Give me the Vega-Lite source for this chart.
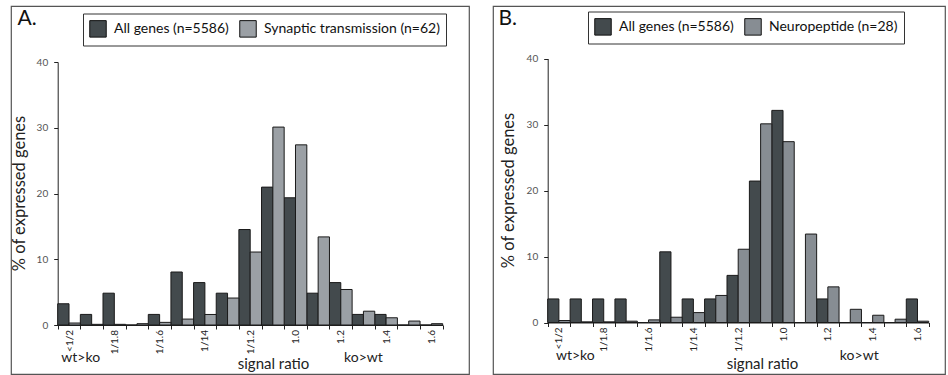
{
  "$schema": "https://vega.github.io/schema/vega-lite/v6.json",
  "padding": {"left": 5, "top": 5, "right": 0, "bottom": 0},
  "spacing": 17,
  "datasets": {
    "bars": [
      {"panel": "A", "bin": "<1/2", "series": "All genes (n=5586)", "pct": 3.23},
      {"panel": "A", "bin": "1/1.9", "series": "All genes (n=5586)", "pct": 1.61},
      {"panel": "A", "bin": "1/1.8", "series": "All genes (n=5586)", "pct": 4.84},
      {"panel": "A", "bin": "1/1.7", "series": "All genes (n=5586)", "pct": 0},
      {"panel": "A", "bin": "1/1.6", "series": "All genes (n=5586)", "pct": 1.61},
      {"panel": "A", "bin": "1/1.5", "series": "All genes (n=5586)", "pct": 8.06},
      {"panel": "A", "bin": "1/1.4", "series": "All genes (n=5586)", "pct": 6.45},
      {"panel": "A", "bin": "1/1.3", "series": "All genes (n=5586)", "pct": 4.84},
      {"panel": "A", "bin": "1/1.2", "series": "All genes (n=5586)", "pct": 14.52},
      {"panel": "A", "bin": "1/1.1", "series": "All genes (n=5586)", "pct": 20.97},
      {"panel": "A", "bin": "1.0", "series": "All genes (n=5586)", "pct": 19.35},
      {"panel": "A", "bin": "1.1", "series": "All genes (n=5586)", "pct": 4.84},
      {"panel": "A", "bin": "1.2", "series": "All genes (n=5586)", "pct": 6.45},
      {"panel": "A", "bin": "1.3", "series": "All genes (n=5586)", "pct": 1.61},
      {"panel": "A", "bin": "1.4", "series": "All genes (n=5586)", "pct": 1.61},
      {"panel": "A", "bin": "1.5", "series": "All genes (n=5586)", "pct": 0},
      {"panel": "A", "bin": "1.6", "series": "All genes (n=5586)", "pct": 0},
      {"panel": "A", "bin": "<1/2", "series": "Synaptic transmission (n=62)", "pct": 0.3},
      {"panel": "A", "bin": "1/1.9", "series": "Synaptic transmission (n=62)", "pct": 0.1},
      {"panel": "A", "bin": "1/1.8", "series": "Synaptic transmission (n=62)", "pct": 0.1},
      {"panel": "A", "bin": "1/1.7", "series": "Synaptic transmission (n=62)", "pct": 0.2},
      {"panel": "A", "bin": "1/1.6", "series": "Synaptic transmission (n=62)", "pct": 0.4},
      {"panel": "A", "bin": "1/1.5", "series": "Synaptic transmission (n=62)", "pct": 0.9},
      {"panel": "A", "bin": "1/1.4", "series": "Synaptic transmission (n=62)", "pct": 1.6},
      {"panel": "A", "bin": "1/1.3", "series": "Synaptic transmission (n=62)", "pct": 4.1},
      {"panel": "A", "bin": "1/1.2", "series": "Synaptic transmission (n=62)", "pct": 11.1},
      {"panel": "A", "bin": "1/1.1", "series": "Synaptic transmission (n=62)", "pct": 30.1},
      {"panel": "A", "bin": "1.0", "series": "Synaptic transmission (n=62)", "pct": 27.4},
      {"panel": "A", "bin": "1.1", "series": "Synaptic transmission (n=62)", "pct": 13.4},
      {"panel": "A", "bin": "1.2", "series": "Synaptic transmission (n=62)", "pct": 5.4},
      {"panel": "A", "bin": "1.3", "series": "Synaptic transmission (n=62)", "pct": 2.1},
      {"panel": "A", "bin": "1.4", "series": "Synaptic transmission (n=62)", "pct": 1.1},
      {"panel": "A", "bin": "1.5", "series": "Synaptic transmission (n=62)", "pct": 0.6},
      {"panel": "A", "bin": "1.6", "series": "Synaptic transmission (n=62)", "pct": 0.2},
      {"panel": "B", "bin": "<1/2", "series": "All genes (n=5586)", "pct": 3.57},
      {"panel": "B", "bin": "1/1.9", "series": "All genes (n=5586)", "pct": 3.57},
      {"panel": "B", "bin": "1/1.8", "series": "All genes (n=5586)", "pct": 3.57},
      {"panel": "B", "bin": "1/1.7", "series": "All genes (n=5586)", "pct": 3.57},
      {"panel": "B", "bin": "1/1.6", "series": "All genes (n=5586)", "pct": 0},
      {"panel": "B", "bin": "1/1.5", "series": "All genes (n=5586)", "pct": 10.71},
      {"panel": "B", "bin": "1/1.4", "series": "All genes (n=5586)", "pct": 3.57},
      {"panel": "B", "bin": "1/1.3", "series": "All genes (n=5586)", "pct": 3.57},
      {"panel": "B", "bin": "1/1.2", "series": "All genes (n=5586)", "pct": 7.14},
      {"panel": "B", "bin": "1/1.1", "series": "All genes (n=5586)", "pct": 21.43},
      {"panel": "B", "bin": "1.0", "series": "All genes (n=5586)", "pct": 32.14},
      {"panel": "B", "bin": "1.1", "series": "All genes (n=5586)", "pct": 0},
      {"panel": "B", "bin": "1.2", "series": "All genes (n=5586)", "pct": 3.57},
      {"panel": "B", "bin": "1.3", "series": "All genes (n=5586)", "pct": 0},
      {"panel": "B", "bin": "1.4", "series": "All genes (n=5586)", "pct": 0},
      {"panel": "B", "bin": "1.5", "series": "All genes (n=5586)", "pct": 0},
      {"panel": "B", "bin": "1.6", "series": "All genes (n=5586)", "pct": 3.57},
      {"panel": "B", "bin": "<1/2", "series": "Neuropeptide (n=28)", "pct": 0.3},
      {"panel": "B", "bin": "1/1.9", "series": "Neuropeptide (n=28)", "pct": 0.1},
      {"panel": "B", "bin": "1/1.8", "series": "Neuropeptide (n=28)", "pct": 0.1},
      {"panel": "B", "bin": "1/1.7", "series": "Neuropeptide (n=28)", "pct": 0.2},
      {"panel": "B", "bin": "1/1.6", "series": "Neuropeptide (n=28)", "pct": 0.4},
      {"panel": "B", "bin": "1/1.5", "series": "Neuropeptide (n=28)", "pct": 0.8},
      {"panel": "B", "bin": "1/1.4", "series": "Neuropeptide (n=28)", "pct": 1.5},
      {"panel": "B", "bin": "1/1.3", "series": "Neuropeptide (n=28)", "pct": 4.1},
      {"panel": "B", "bin": "1/1.2", "series": "Neuropeptide (n=28)", "pct": 11.1},
      {"panel": "B", "bin": "1/1.1", "series": "Neuropeptide (n=28)", "pct": 30.1},
      {"panel": "B", "bin": "1.0", "series": "Neuropeptide (n=28)", "pct": 27.4},
      {"panel": "B", "bin": "1.1", "series": "Neuropeptide (n=28)", "pct": 13.4},
      {"panel": "B", "bin": "1.2", "series": "Neuropeptide (n=28)", "pct": 5.4},
      {"panel": "B", "bin": "1.3", "series": "Neuropeptide (n=28)", "pct": 2.0},
      {"panel": "B", "bin": "1.4", "series": "Neuropeptide (n=28)", "pct": 1.1},
      {"panel": "B", "bin": "1.5", "series": "Neuropeptide (n=28)", "pct": 0.5},
      {"panel": "B", "bin": "1.6", "series": "Neuropeptide (n=28)", "pct": 0.2}
    ],
    "notes": [
      {"panel": "A", "bin": "1/1.9", "text": "wt>ko"},
      {"panel": "A", "bin": "1.3", "text": "ko>wt"},
      {"panel": "B", "bin": "1/1.9", "text": "wt>ko"},
      {"panel": "B", "bin": "1.3", "text": "ko>wt"}
    ]
  },
  "hconcat": [
    {
      "width": 458,
      "height": 368,
      "title": {"text": "A.", "anchor": "start", "frame": "group", "orient": "top", "offset": -40, "baseline": "alphabetic", "dx": 6.5, "fontSize": 21, "fontWeight": "normal", "color": "#111"},
      "layer": [
        {
          "data": {"name": "bars"},
          "transform": [{"filter": "datum.panel == 'A'"}],
          "mark": {"type": "bar", "stroke": "#1a1a1a", "strokeWidth": 1},
          "encoding": {
            "x": {
              "field": "bin", "type": "nominal",
              "sort": ["<1/2", "1/1.9", "1/1.8", "1/1.7", "1/1.6", "1/1.5", "1/1.4", "1/1.3", "1/1.2", "1/1.1", "1.0", "1.1", "1.2", "1.3", "1.4", "1.5", "1.6"],
              "scale": {"range": [46.7, 431.7], "paddingInner": 0, "paddingOuter": 0},
              "axis": {
                "title": "signal ratio", "offset": -49, "tickBand": "extent",
                "labelExpr": "indexof(['<1/2','1/1.8','1/1.6','1/1.4','1/1.2','1.0','1.2','1.4','1.6'], datum.value) >= 0 ? (datum.value == '1/1.4' ? '1/14' : datum.value) : ''",
                "titleX": 262, "titleY": 43.5
              }
            },
            "xOffset": {"field": "series", "sort": ["All genes (n=5586)", "Synaptic transmission (n=62)"], "scale": {"paddingInner": 0, "paddingOuter": 0}},
            "y": {
              "field": "pct", "type": "quantitative",
              "scale": {"domain": [0, 40], "range": [319, 56], "nice": false},
              "axis": {"title": "% of expressed genes", "values": [0, 10, 20, 30, 40], "offset": -46.7, "titleX": -38, "titleY": 187}
            },
            "color": {
              "field": "series", "type": "nominal",
              "scale": {"domain": ["All genes (n=5586)", "Synaptic transmission (n=62)"], "range": ["#434a4d", "#9ba0a5"]},
              "legend": {"legendX": 72, "legendY": 7.5}
            }
          }
        },
        {
          "data": {"name": "notes"},
          "transform": [{"filter": "datum.panel == 'A' && datum.text == 'wt>ko'"}],
          "mark": {"type": "text", "dx": -11, "baseline": "alphabetic", "fontSize": 14, "color": "#222"},
          "encoding": {
            "x": {"field": "bin", "type": "nominal", "sort": ["<1/2", "1/1.9", "1/1.8", "1/1.7", "1/1.6", "1/1.5", "1/1.4", "1/1.3", "1/1.2", "1/1.1", "1.0", "1.1", "1.2", "1.3", "1.4", "1.5", "1.6"]},
            "y": {"datum": -5.6, "type": "quantitative"},
            "text": {"field": "text"}
          }
        },
        {
          "data": {"name": "notes"},
          "transform": [{"filter": "datum.panel == 'A' && datum.text == 'ko>wt'"}],
          "mark": {"type": "text", "dx": 0, "baseline": "alphabetic", "fontSize": 14, "color": "#222"},
          "encoding": {
            "x": {"field": "bin", "type": "nominal", "sort": ["<1/2", "1/1.9", "1/1.8", "1/1.7", "1/1.6", "1/1.5", "1/1.4", "1/1.3", "1/1.2", "1/1.1", "1.0", "1.1", "1.2", "1.3", "1.4", "1.5", "1.6"]},
            "y": {"datum": -5.6, "type": "quantitative"},
            "text": {"field": "text"}
          }
        }
      ]
    },
    {
      "width": 452,
      "height": 368,
      "title": {"text": "B.", "anchor": "start", "frame": "group", "orient": "top", "offset": -39.5, "baseline": "alphabetic", "dx": 5.5, "fontSize": 21, "fontWeight": "normal", "color": "#111"},
      "layer": [
        {
          "data": {"name": "bars"},
          "transform": [{"filter": "datum.panel == 'B'"}],
          "mark": {"type": "bar", "stroke": "#1a1a1a", "strokeWidth": 1},
          "encoding": {
            "x": {
              "field": "bin", "type": "nominal",
              "sort": ["<1/2", "1/1.9", "1/1.8", "1/1.7", "1/1.6", "1/1.5", "1/1.4", "1/1.3", "1/1.2", "1/1.1", "1.0", "1.1", "1.2", "1.3", "1.4", "1.5", "1.6"],
              "scale": {"range": [54.7, 435.7], "paddingInner": 0, "paddingOuter": 0},
              "axis": {
                "title": "signal ratio", "offset": -51.5, "tickBand": "extent",
                "labelExpr": "indexof(['<1/2','1/1.8','1/1.6','1/1.4','1/1.2','1.0','1.2','1.4','1.6'], datum.value) >= 0 ? datum.value : ''",
                "titleX": 269, "titleY": 45.8
              }
            },
            "xOffset": {"field": "series", "sort": ["All genes (n=5586)", "Neuropeptide (n=28)"], "scale": {"paddingInner": 0, "paddingOuter": 0}},
            "y": {
              "field": "pct", "type": "quantitative",
              "scale": {"domain": [0, 40], "range": [316.5, 52.5], "nice": false},
              "axis": {"title": "% of expressed genes", "values": [0, 10, 20, 30, 40], "offset": -54.7, "titleX": -39, "titleY": 184}
            },
            "color": {
              "field": "series", "type": "nominal",
              "scale": {"domain": ["All genes (n=5586)", "Neuropeptide (n=28)"], "range": ["#434a4d", "#878d93"]},
              "legend": {"legendX": 95, "legendY": 5.5}
            }
          }
        },
        {
          "data": {"name": "notes"},
          "transform": [{"filter": "datum.panel == 'B' && datum.text == 'wt>ko'"}],
          "mark": {"type": "text", "dx": -6, "baseline": "alphabetic", "fontSize": 14, "color": "#222"},
          "encoding": {
            "x": {"field": "bin", "type": "nominal", "sort": ["<1/2", "1/1.9", "1/1.8", "1/1.7", "1/1.6", "1/1.5", "1/1.4", "1/1.3", "1/1.2", "1/1.1", "1.0", "1.1", "1.2", "1.3", "1.4", "1.5", "1.6"]},
            "y": {"datum": -5.73, "type": "quantitative"},
            "text": {"field": "text"}
          }
        },
        {
          "data": {"name": "notes"},
          "transform": [{"filter": "datum.panel == 'B' && datum.text == 'ko>wt'"}],
          "mark": {"type": "text", "dx": 9, "baseline": "alphabetic", "fontSize": 14, "color": "#222"},
          "encoding": {
            "x": {"field": "bin", "type": "nominal", "sort": ["<1/2", "1/1.9", "1/1.8", "1/1.7", "1/1.6", "1/1.5", "1/1.4", "1/1.3", "1/1.2", "1/1.1", "1.0", "1.1", "1.2", "1.3", "1.4", "1.5", "1.6"]},
            "y": {"datum": -5.73, "type": "quantitative"},
            "text": {"field": "text"}
          }
        }
      ]
    }
  ],
  "resolve": {
    "scale": {"x": "independent", "y": "independent", "xOffset": "independent", "color": "independent"},
    "axis": {"x": "independent", "y": "independent"},
    "legend": {"color": "independent"}
  },
  "config": {
    "font": "Lato",
    "background": "white",
    "view": {"stroke": "#555", "strokeWidth": 1.2},
    "title": {"font": "Lato"},
    "text": {"font": "Lato"},
    "axis": {
      "grid": false,
      "domainColor": "#222",
      "domainWidth": 1,
      "tickColor": "#222",
      "labelColor": "#222",
      "labelFont": "Lato",
      "titleFont": "Lato",
      "titleFontWeight": "normal",
      "titleColor": "#222"
    },
    "axisX": {"labelAngle": -90, "labelFontSize": 10, "labelPadding": 0.5, "tickSize": 4, "titleFontSize": 15, "titleBaseline": "alphabetic", "titleAlign": "center"},
    "axisY": {"labelFontSize": 10, "labelColor": "#555", "labelPadding": 6, "tickSize": 4, "titleFontSize": 16.5, "titleAngle": -90, "titleBaseline": "middle", "titleAlign": "center"},
    "legend": {
      "orient": "none",
      "direction": "horizontal",
      "title": null,
      "strokeColor": "#333",
      "padding": 6,
      "symbolType": "square",
      "symbolSize": 272,
      "symbolStrokeColor": "#111",
      "symbolStrokeWidth": 1,
      "symbolOpacity": 1,
      "labelFont": "Lato",
      "labelFontSize": 14,
      "labelLimit": 0,
      "labelColor": "#111",
      "labelOffset": 7,
      "columnPadding": 8
    }
  }
}
